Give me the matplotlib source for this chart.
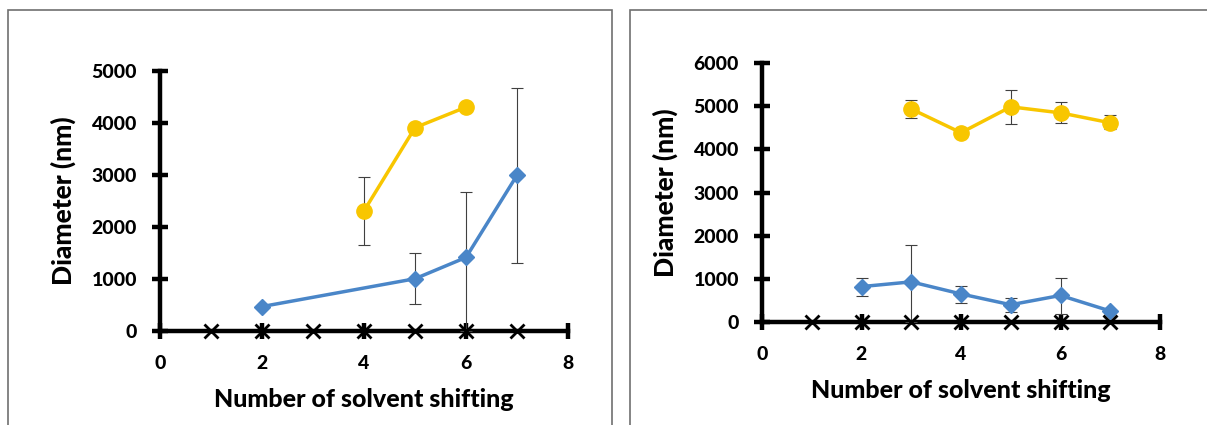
import matplotlib.pyplot as plt
from matplotlib.patches import Rectangle

# left panel data
l_blue_x = [2, 5, 6, 7]
l_blue_y = [470, 1005, 1415, 2995]
l_blue_lo = [0, 485, 1415, 1690]
l_blue_hi = [0, 490, 1260, 1680]
l_yel_x = [4, 5, 6]
l_yel_y = [2310, 3910, 4305]
l_yel_lo = [650, 0, 0]
l_yel_hi = [655, 0, 0]

# right panel data
r_blue_x = [2, 3, 4, 5, 6, 7]
r_blue_y = [820, 930, 650, 400, 615, 255]
r_blue_lo = [220, 930, 200, 165, 440, 0]
r_blue_hi = [200, 845, 185, 150, 405, 0]
r_yel_x = [3, 4, 5, 6, 7]
r_yel_y = [4935, 4385, 4985, 4845, 4615]
r_yel_lo = [200, 0, 395, 230, 155]
r_yel_hi = [200, 0, 400, 245, 175]

zero_x = [1, 2, 3, 4, 5, 6, 7]
zero_y = [0, 0, 0, 0, 0, 0, 0]

blue = '#4a86c8'
yellow = '#f8c600'
font = 'Lato'

fig = plt.figure(figsize=(12.07, 4.25), dpi=100)
W, H = 1207, 425

# panel frames
fig.patches.append(Rectangle((8 / W, -0.1), (612 - 8) / W, 1.1 - 10.5 / H,
                             transform=fig.transFigure, fill=False,
                             edgecolor='#707070', linewidth=1.2))
fig.patches.append(Rectangle((630 / W, -0.1), 0.5, 1.1 - 10.5 / H,
                             transform=fig.transFigure, fill=False,
                             edgecolor='#707070', linewidth=1.2))


def style(ax, ymax, ystep):
    for s in ['top', 'right']:
        ax.spines[s].set_visible(False)
    for s in ['left', 'bottom']:
        ax.spines[s].set_linewidth(3.2)
    ax.set_xlim(0, 8)
    ax.set_ylim(0, ymax)
    ax.set_xticks([0, 2, 4, 6, 8])
    ax.set_yticks(range(0, ymax + 1, ystep))
    ax.tick_params(direction='inout', length=11, width=3.2, labelsize=14)
    ax.tick_params(axis='x', pad=12)
    ax.tick_params(axis='y', pad=11)
    for lab in ax.get_xticklabels() + ax.get_yticklabels():
        lab.set_fontweight('black')
        lab.set_family(font)
    ax.set_xlabel('Number of solvent shifting', fontsize=18, fontweight='black',
                  family=font, labelpad=11)
    ax.set_ylabel('Diameter (nm)', fontsize=19, fontweight='black', family=font,
                  labelpad=11)


def draw(ax, bx, by, blo, bhi, yx, yy, ylo, yhi):
    ax.errorbar(bx, by, yerr=[blo, bhi], color=blue, lw=2.5, marker='D', ms=8,
                ecolor='#404040', elinewidth=0.8, capsize=4, capthick=0.8,
                clip_on=False, zorder=3)
    ax.errorbar(yx, yy, yerr=[ylo, yhi], color=yellow, lw=2.5, marker='o', ms=11,
                ecolor='#404040', elinewidth=0.8, capsize=4, capthick=0.8,
                clip_on=False, zorder=3)
    ax.plot(zero_x, zero_y, linestyle='none', marker='x', ms=10, mew=2,
            color='black', clip_on=False, zorder=4)


ax1 = fig.add_axes([160 / W, 1 - 331 / H, 408 / W, 260 / H])
draw(ax1, l_blue_x, l_blue_y, l_blue_lo, l_blue_hi,
     l_yel_x, l_yel_y, l_yel_lo, l_yel_hi)
style(ax1, 5000, 1000)

ax2 = fig.add_axes([762 / W, 1 - 322 / H, 398 / W, 259 / H])
draw(ax2, r_blue_x, r_blue_y, r_blue_lo, r_blue_hi,
     r_yel_x, r_yel_y, r_yel_lo, r_yel_hi)
style(ax2, 6000, 1000)

fig.savefig('out.png', dpi=100)
